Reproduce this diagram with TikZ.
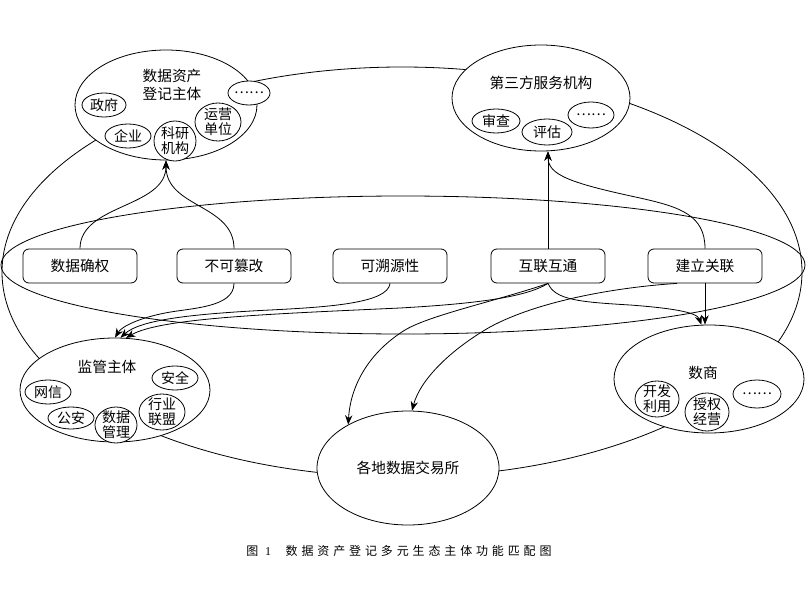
\documentclass[tikz,border=0pt]{standalone}
\usepackage{fontspec}
\setmainfont{Noto Sans CJK SC}
\newfontfamily\latf{Liberation Serif}
\usetikzlibrary{shapes.geometric,arrows.meta,calc}
\newcommand\capsp{\kern2.9pt}
\begin{document}
\begin{tikzpicture}[x=0.75pt,y=-0.75pt,line width=0.6pt,
  subell/.style 2 args={draw,ellipse,fill=white,inner sep=0pt,minimum width=#1*1.5pt,minimum height=#2*1.5pt},
  boxn/.style={draw,rounded corners=4.5pt,fill=white,inner sep=0pt,minimum width=85.5pt,minimum height=25.5pt,font=\fontsize{11}{12}\selectfont},
  arr/.style={-{Stealth[length=7pt,width=5.5pt]}},
  lbl/.style={align=center,inner sep=0pt,font=\fontsize{10.5}{11.5}\selectfont},
  ttl/.style={align=center,inner sep=0pt,font=\fontsize{11}{14}\selectfont}]
\useasboundingbox (0,0) rectangle (806,606);
% large background ellipses
\draw (402,272) ellipse [x radius=400, y radius=205];
\draw (403,265) ellipse [x radius=402, y radius=69];
% registration subjects
\node[subell={91}{55}] (reg) at (166,105) {};
\node[ttl] (regt) at (172,85) {数据资产\\登记主体};
\node[subell={22}{12},label={[lbl]center:政府}] (zf) at (104,105) {};
\node[subell={23}{12},label={[lbl]center:企业}] (qy) at (128,136) {};
\node[subell={21}{20},label={[lbl]center:{科研\\机构}}] (ky) at (175,141) {};
\node[subell={23}{19},label={[lbl]center:{运营\\单位}}] (yy) at (218,122) {};
\node[subell={21}{12},label={[lbl]center:……}] (rd) at (249,93) {};
% third party
\node[subell={89}{53}] (sf) at (541,98) {};
\node[ttl] (sft) at (541,83) {第三方服务机构};
\node[subell={24}{12},label={[lbl]center:审查}] (sc) at (496,121) {};
\node[subell={25}{13},label={[lbl]center:评估}] (pg) at (547,132) {};
\node[subell={23}{13},label={[lbl]center:……}] (sd) at (591,115) {};
% regulators
\node[subell={95}{52}] (jg) at (115,390) {};
\node[ttl] (jgt) at (107,367) {监管主体};
\node[subell={23}{12},label={[lbl]center:网信}] (wx) at (48,392) {};
\node[subell={23}{11},label={[lbl]center:公安}] (ga) at (71,418) {};
\node[subell={21}{18},label={[lbl]center:{数据\\管理}}] (sjgl) at (116,425) {};
\node[subell={23}{18},label={[lbl]center:{行业\\联盟}}] (hy) at (162,412) {};
\node[subell={23}{12},label={[lbl]center:安全}] (aq) at (175,378) {};
% data merchants
\node[subell={95}{54}] (ds) at (709,379) {};
\node[ttl] (dst) at (703,373) {数商};
\node[subell={22}{18},label={[lbl]center:{开发\\利用}}] (kf) at (657,399) {};
\node[subell={22}{19},label={[lbl]center:{授权\\经营}}] (sq) at (707,412) {};
\node[subell={24}{14},label={[lbl]center:……}] (dd) at (757,394) {};
% exchanges
\node[subell={91}{57},label={[ttl]center:各地数据交易所}] (gd) at (408,468) {};
% function boxes
\node[boxn] (b1) at (80,266) {数据确权};
\node[boxn] (b2) at (234,266) {不可篡改};
\node[boxn] (b3) at (390,266) {可溯源性};
\node[boxn] (b4) at (548,266) {互联互通};
\node[boxn] (b5) at (705,266) {建立关联};
% connectors
\draw[arr] (b1.north) .. controls (80,204) and (166,208) .. (reg.south);
\draw[arr] (b2.north) .. controls (234,204) and (166,208) .. (reg.south);
\draw[arr] (b2.south) .. controls (234,308) and (190,308) .. (165,313) .. controls (140,318) and (122,326) .. (jg.90);
\draw[arr] (b3.south) .. controls (388,303) and (330,307) .. (270,310) .. controls (190,314) and (140,320) .. (jg.84);
\draw[arr] (b4.south) .. controls (525,298) and (470,304) .. (400,308) .. controls (270,314) and (160,318) .. (jg.78);
\draw[arr] (b4.south) .. controls (500,300) and (430,315) .. (405,330) .. controls (365,355) and (350,390) .. (gd.144);
\draw[arr] (b5.-148) .. controls (620,287) and (540,300) .. (490,327) .. controls (450,350) and (420,380) .. (gd.86);
\coordinate (tipS) at (b4.north |- sf.south);
\draw[arr] (b4.north) -- (tipS);
\draw[arr] (b5.north) .. controls (705,215) and (680,207) .. (640,198) .. controls (570,183) and (548,175) .. (tipS);
\draw[arr] (b4.south) .. controls (555,300) and (580,302) .. (630,305) .. controls (670,308) and (697,312) .. (ds.98);
\draw[arr] (b5.south) -- (b5.south |- ds.north);
% caption
\node[inner sep=0pt] (cap) at (399,551) {\fontsize{9}{10}\selectfont 图\kern5pt{\latf 1}\kern11pt 数\capsp 据\capsp 资\capsp 产\capsp 登\capsp 记\capsp 多\capsp 元\capsp 生\capsp 态\capsp 主\capsp 体\capsp 功\capsp 能\capsp 匹\capsp 配\capsp 图};
\end{tikzpicture}
\end{document}
